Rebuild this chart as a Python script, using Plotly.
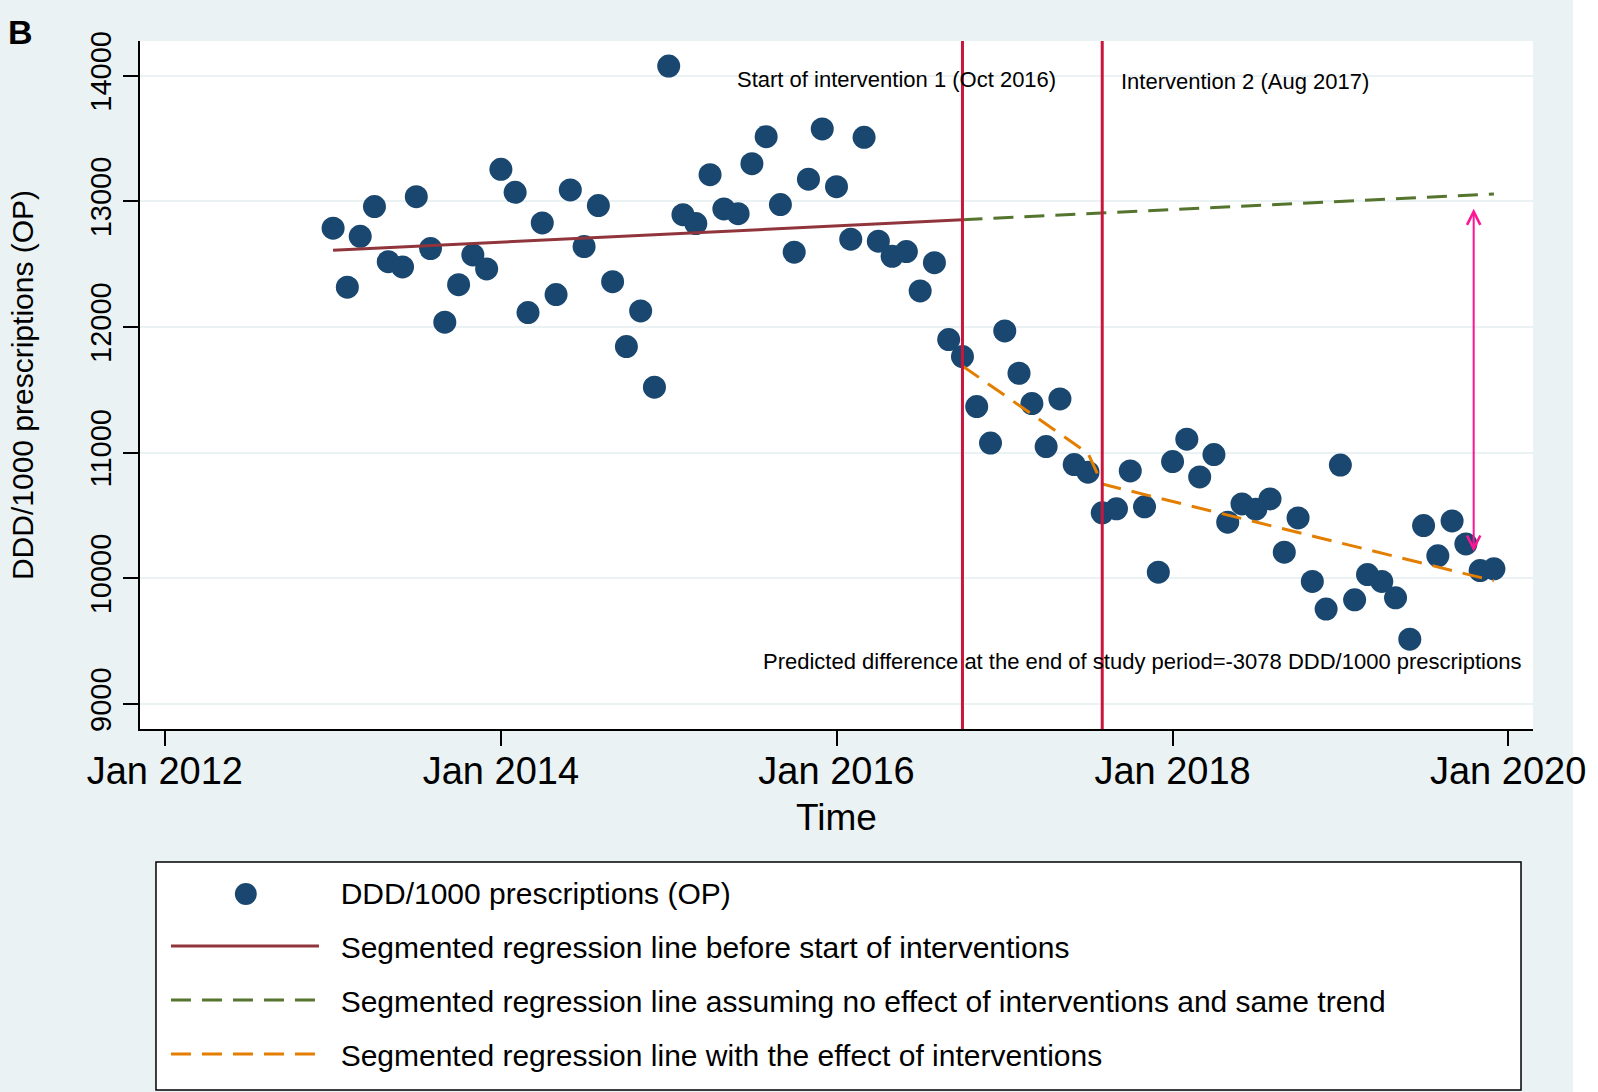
import plotly.graph_objects as go

# ---------------- data ----------------
months = [f"{y}-{m:02d}-01" for y in range(2013, 2020) for m in range(1, 13)]
ddd_values = [
    12786, 12317, 12722, 12958, 12520, 12478, 13037, 12624, 12038, 12337, 12574, 12462,  # 2013
    13255, 13072, 12115, 12828, 12258, 13091, 12640, 12966, 12361, 11844, 12128, 11521,  # 2014
    14077, 12894, 12823, 13212, 12940, 12902, 13300, 13515, 12974, 12595, 13176, 13576,  # 2015
    13117, 12699, 13510, 12683, 12563, 12600, 12287, 12512, 11900, 11765, 11367, 11076,  # 2016
    11969, 11632, 11391, 11049, 11428, 10905, 10845, 10521, 10553, 10855, 10569, 10049,  # 2017
    10929, 11107, 10807, 10985, 10447, 10592, 10550, 10632, 10208, 10481, 9975, 9755,    # 2018
    10901, 9829, 10030, 9975, 9845, 9516, 10420, 10179, 10457, 10274, 10062, 10076,      # 2019
]

pre_x = ["2013-01-01", "2016-10-01"]
pre_y = [12610, 12853]
counterfactual_x = ["2016-10-01", "2019-12-01"]
counterfactual_y = [12853, 13058]
effect_x = ["2016-10-01", "2017-07-01", "2017-08-01", "2019-12-01"]
effect_y = [11690, 10995, 10750, 9980]

intervention_dates = ["2016-10-01", "2017-08-01"]
intervention_labels = ["Start of intervention 1 (Oct 2016)", "Intervention 2 (Aug 2017)"]
label_x = ["2015-05-25", "2017-09-06"]
label_y = [13966, 13950]

diff_text = "Predicted difference at the end of study period=-3078 DDD/1000 prescriptions"
diff_text_x = "2015-07-20"
diff_text_y = 9338
arrow_x = "2019-10-18"
arrow_top = 12953
arrow_bottom = 10213

tick_dates = ["2012-01-01", "2014-01-01", "2016-01-01", "2018-01-01", "2020-01-01"]
tick_labels = ["Jan 2012", "Jan 2014", "Jan 2016", "Jan 2018", "Jan 2020"]
y_ticks = [9000, 10000, 11000, 12000, 13000, 14000]
y_tick_labels = ["9000", "10000", "11000", "12000", "13000", "14000"]

legend_names = [
    "DDD/1000 prescriptions (OP)",
    "Segmented regression line before start of interventions",
    "Segmented regression line assuming no effect of interventions and same trend",
    "Segmented regression line with the effect of interventions",
]

# ---------------- style ----------------
FONT = "Liberation Sans, Arial, Helvetica, sans-serif"
BG = "#EAF2F3"
NAVY = "#1A476F"
MAROON = "#90353B"
GREEN = "#55752F"
ORANGE = "#E37E00"
CRIMSON = "#C8163C"
PINK = "#FF1493"
DASH = "20px,11px"
PAD = "\u00a0\u00a0"

W, H = 1598, 1092
L, R, T, B = 140, 63, 41, 363
PW = W - L - R
PH = H - T - B


def px_x(px):
    return (px - L) / PW


def px_y(py):
    return (H - B - py) / PH


fig = go.Figure()
fig.add_trace(go.Scatter(
    x=months, y=ddd_values, mode="markers", name=legend_names[0], showlegend=False,
    marker=dict(color=NAVY, size=23, line=dict(width=0)),
))
# legend entry for the markers (the glyph itself is drawn larger below as a shape)
fig.add_trace(go.Scatter(
    x=[None], y=[None], mode="markers", name=PAD + legend_names[0], legendgroup="a",
    marker=dict(color="rgba(0,0,0,0)", size=16),
))
fig.add_trace(go.Scatter(
    x=pre_x, y=pre_y, mode="lines", name=PAD + legend_names[1], legendgroup="b",
    line=dict(color=MAROON, width=3),
))
fig.add_trace(go.Scatter(
    x=counterfactual_x, y=counterfactual_y, mode="lines", name=PAD + legend_names[2], legendgroup="c",
    line=dict(color=GREEN, width=3, dash=DASH),
))
fig.add_trace(go.Scatter(
    x=effect_x, y=effect_y, mode="lines", name=PAD + legend_names[3], legendgroup="d",
    line=dict(color=ORANGE, width=3, dash=DASH),
))

shapes = []
for d in intervention_dates:
    shapes.append(dict(type="line", xref="x", yref="paper", x0=d, x1=d, y0=0, y1=1,
                       line=dict(color=CRIMSON, width=3), layer="above"))
# legend frame
shapes.append(dict(type="rect", xref="paper", yref="paper",
                   x0=px_x(156), x1=px_x(1523), y0=px_y(1090), y1=px_y(862),
                   line=dict(color="black", width=1.5), fillcolor="white", layer="below"))
# legend marker glyph
shapes.append(dict(type="circle", xref="paper", yref="paper",
                   x0=px_x(235), x1=px_x(257), y0=px_y(905), y1=px_y(883),
                   line=dict(width=0), fillcolor=NAVY, layer="above"))
# white strip at right edge of the image
shapes.append(dict(type="rect", xref="paper", yref="paper",
                   x0=px_x(1575), x1=px_x(1610), y0=px_y(1100), y1=px_y(-10),
                   line=dict(width=0), fillcolor="white", layer="below"))

annotations = []
for txt, lx, ly in zip(intervention_labels, label_x, label_y):
    annotations.append(dict(x=lx, y=ly, xref="x", yref="y", text=txt, showarrow=False,
                            xanchor="left", yanchor="middle",
                            font=dict(size=22, color="black", family=FONT)))
annotations.append(dict(x=diff_text_x, y=diff_text_y, xref="x", yref="y", text=diff_text,
                        showarrow=False, xanchor="left", yanchor="middle",
                        font=dict(size=22, color="black", family=FONT)))
annotations.append(dict(x=arrow_x, y=arrow_bottom, xref="x", yref="y",
                        ax=arrow_x, ay=arrow_top, axref="x", ayref="y",
                        showarrow=True, arrowside="end+start", arrowhead=5, startarrowhead=5,
                        arrowsize=1.3, startarrowsize=1.3, arrowwidth=2, arrowcolor=PINK, text=""))
annotations.append(dict(x=px_x(20), y=px_y(32), xref="paper", yref="paper", text="<b>B</b>",
                        showarrow=False, xanchor="center", yanchor="middle",
                        font=dict(size=34, color="black", family=FONT)))

fig.update_layout(
    width=W, height=H,
    margin=dict(l=L, r=R, t=T, b=B, pad=0),
    paper_bgcolor=BG, plot_bgcolor="white",
    font=dict(family=FONT, color="black"),
    showlegend=True,
    legend=dict(x=px_x(166), y=px_y(866), xanchor="left", yanchor="top",
                bgcolor="rgba(0,0,0,0)", borderwidth=0,
                font=dict(size=30, family=FONT, color="black"),
                itemwidth=148, traceorder="grouped", tracegroupgap=12, itemsizing="trace"),
    shapes=shapes,
    annotations=annotations,
    xaxis=dict(type="date", range=["2011-11-08", "2020-02-24"],
               tickmode="array", tickvals=tick_dates, ticktext=tick_labels,
               ticks="outside", ticklen=15, tickwidth=2, tickcolor="black",
               showline=True, linecolor="black", linewidth=2, showgrid=False, zeroline=False,
               ticklabelstandoff=-8,
               tickfont=dict(size=38, family=FONT, color="black"),
               title=dict(text="Time", font=dict(size=37, family=FONT, color="black"), standoff=14)),
    yaxis=dict(range=[8801, 14276], tickmode="array", tickvals=y_ticks, ticktext=y_tick_labels,
               ticks="outside", ticklen=15, tickwidth=2, tickcolor="black",
               showline=True, linecolor="black", linewidth=2,
               showgrid=True, gridcolor=BG, gridwidth=2, zeroline=False,
               tickangle=-90, tickfont=dict(size=29, family=FONT, color="black"),
               title=dict(text="DDD/1000 prescriptions (OP)",
                          font=dict(size=30, family=FONT, color="black"), standoff=43)),
)

fig.write_html("out.html", config={"displayModeBar": False},
               post_script="document.body.style.margin='0';")
